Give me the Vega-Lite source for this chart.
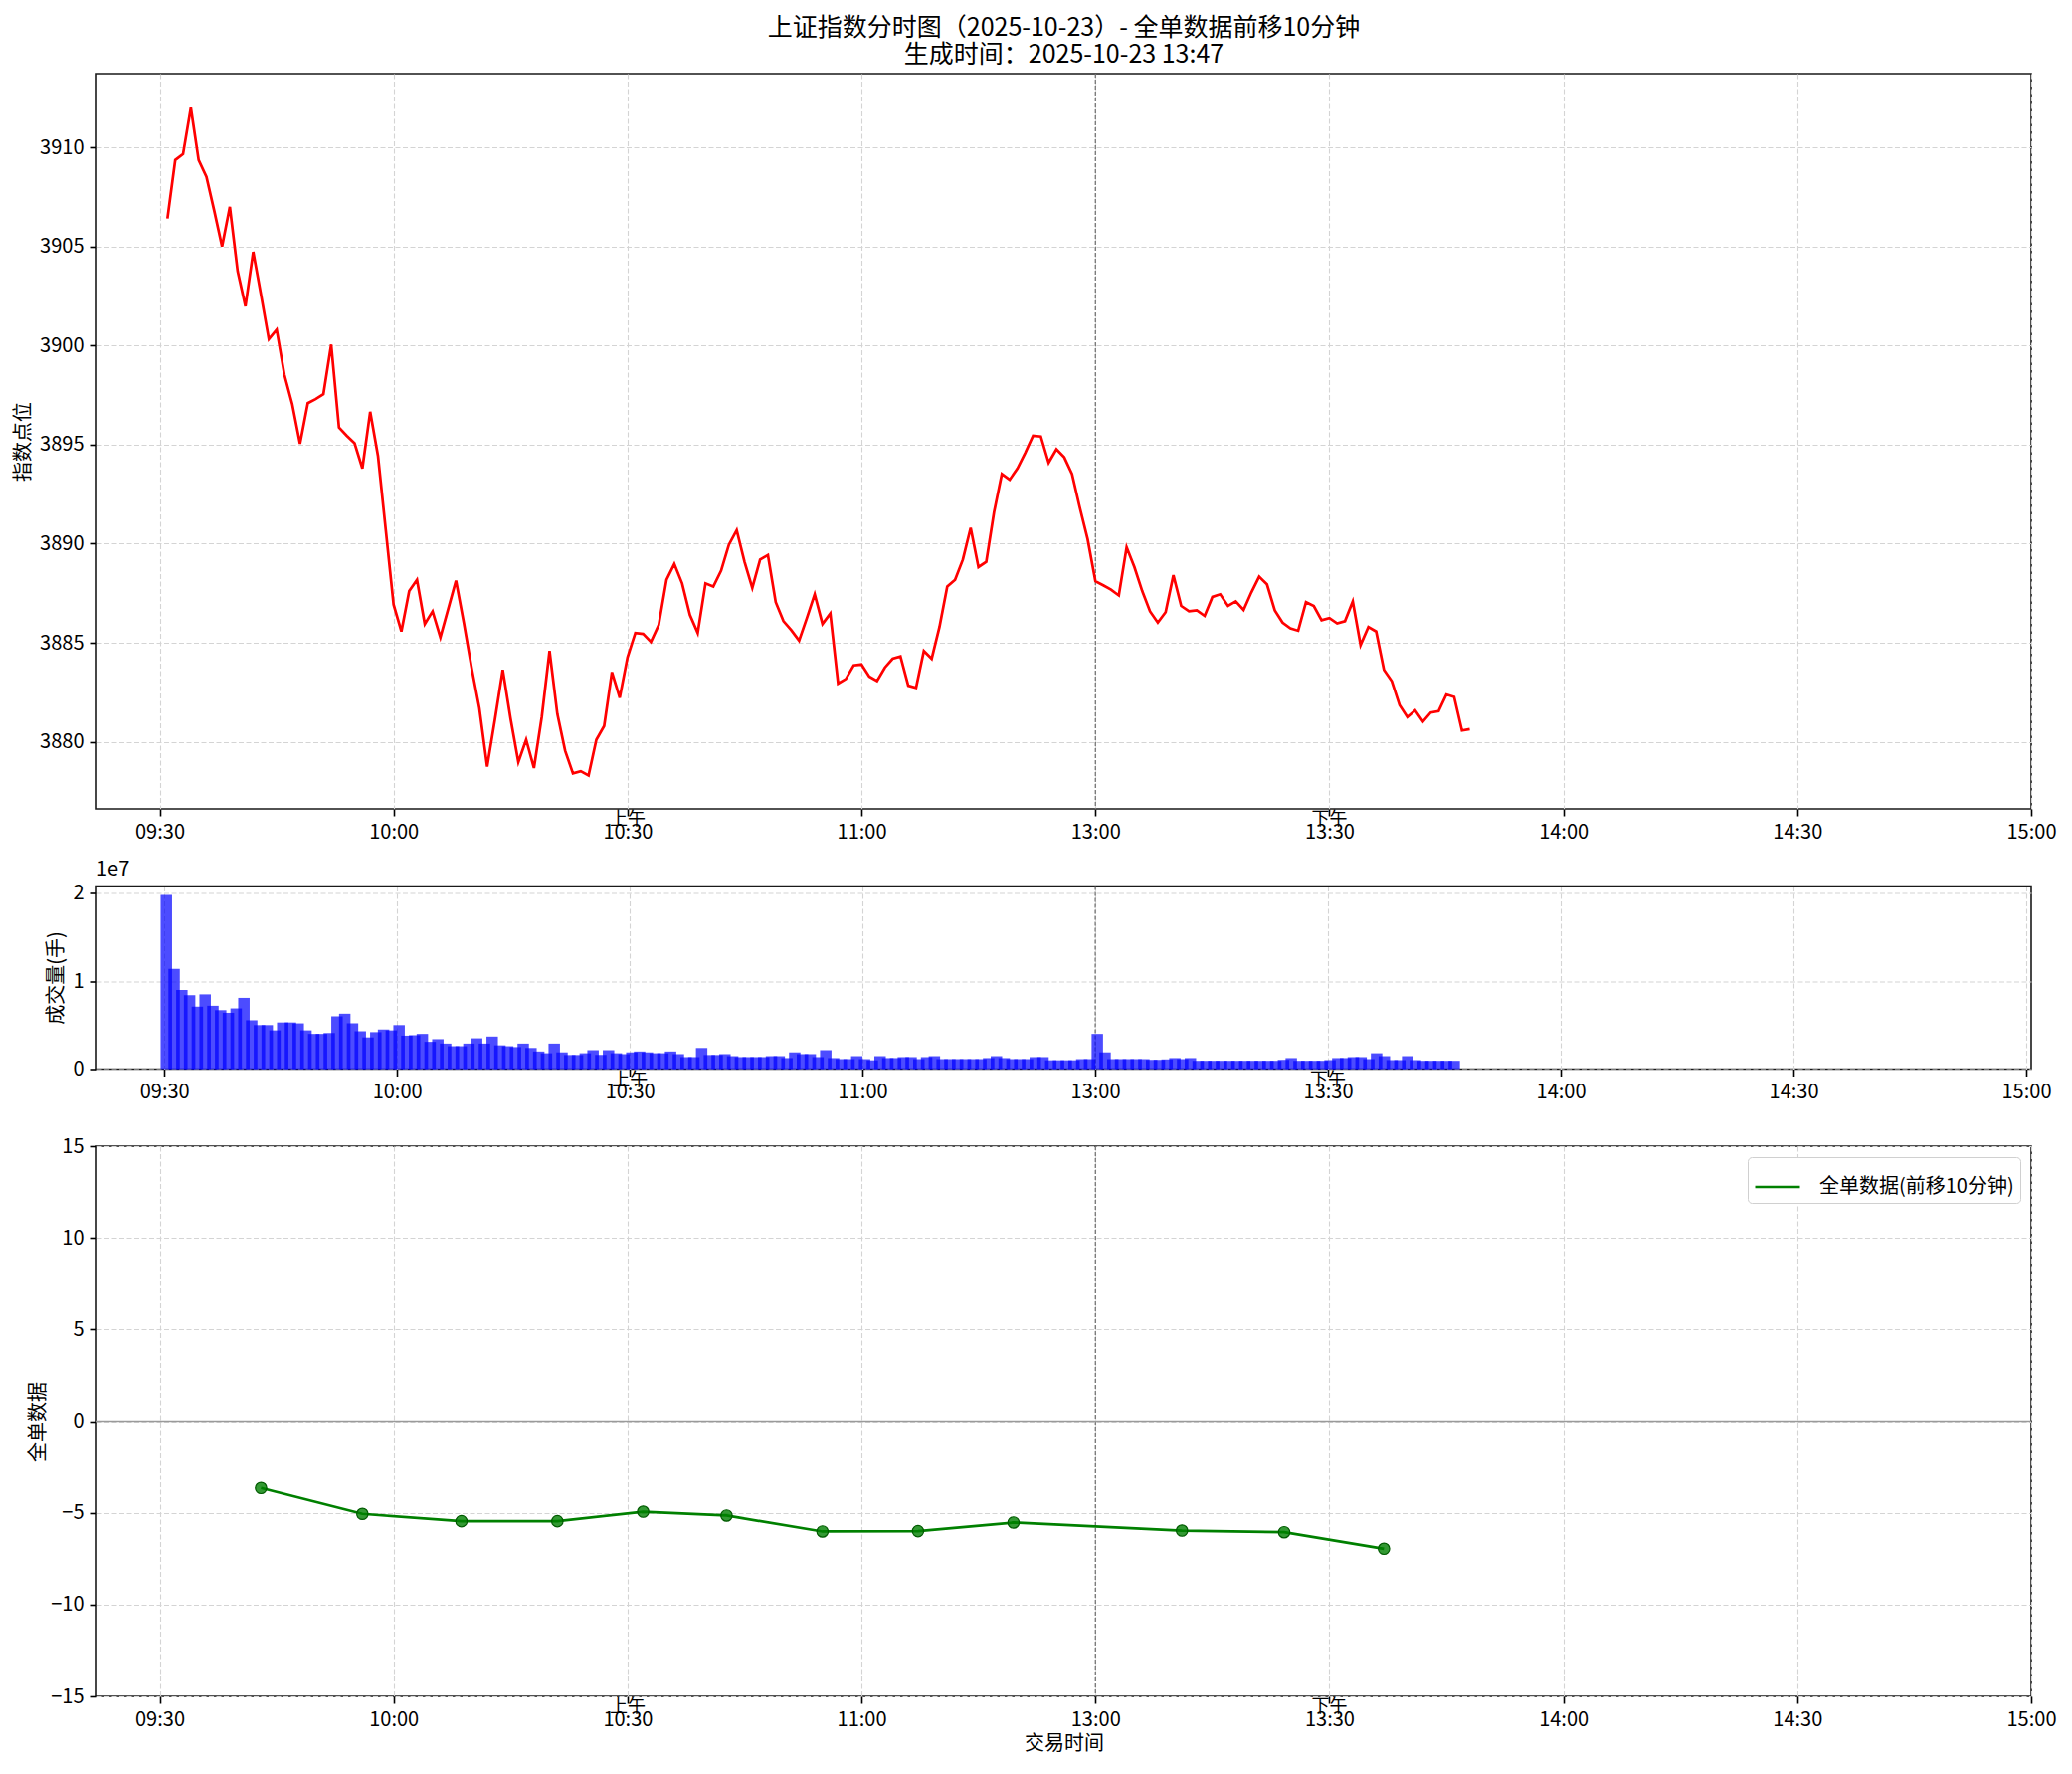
{
  "$schema": "https://vega.github.io/schema/vega-lite/v6.json",
  "background": "white",
  "padding": {"left": 12, "top": 15, "right": 30, "bottom": 10},
  "config": {
    "font": "Noto Sans CJK SC",
    "view": {"stroke": "#1a1a1a", "strokeWidth": 1.6},
    "axis": {
      "labelFontSize": 20,
      "titleFontSize": 20,
      "labelColor": "black",
      "titleColor": "black",
      "titleFontWeight": "normal",
      "tickColor": "black",
      "tickSize": 7,
      "tickWidth": 1.6,
      "domain": false,
      "gridColor": "#d4d4d4",
      "gridDash": [5, 2.5],
      "gridWidth": 1.1,
      "labelPadding": 6
    },
    "title": {"fontWeight": "normal", "color": "black"}
  },
  "datasets": {
    "price": [
      {"t": 1, "price": 3906.41}, {"t": 2, "price": 3909.36}, {"t": 3, "price": 3909.66}, {"t": 4, "price": 3912.0},
      {"t": 5, "price": 3909.36}, {"t": 6, "price": 3908.52}, {"t": 7, "price": 3906.8}, {"t": 8, "price": 3905.0},
      {"t": 9, "price": 3907.0}, {"t": 10, "price": 3903.75}, {"t": 11, "price": 3901.98}, {"t": 12, "price": 3904.73},
      {"t": 13, "price": 3902.55}, {"t": 14, "price": 3900.32}, {"t": 15, "price": 3900.8}, {"t": 16, "price": 3898.52},
      {"t": 17, "price": 3897.05}, {"t": 18, "price": 3895.05}, {"t": 19, "price": 3897.09}, {"t": 20, "price": 3897.3},
      {"t": 21, "price": 3897.55}, {"t": 22, "price": 3900.05}, {"t": 23, "price": 3895.86}, {"t": 24, "price": 3895.45},
      {"t": 25, "price": 3895.07}, {"t": 26, "price": 3893.8}, {"t": 27, "price": 3896.66}, {"t": 28, "price": 3894.43},
      {"t": 29, "price": 3890.68}, {"t": 30, "price": 3886.93}, {"t": 31, "price": 3885.57}, {"t": 32, "price": 3887.61},
      {"t": 33, "price": 3888.18}, {"t": 34, "price": 3885.95}, {"t": 35, "price": 3886.59}, {"t": 36, "price": 3885.27},
      {"t": 37, "price": 3886.7}, {"t": 38, "price": 3888.14}, {"t": 39, "price": 3886.02}, {"t": 40, "price": 3883.75},
      {"t": 41, "price": 3881.7}, {"t": 42, "price": 3878.75}, {"t": 43, "price": 3881.14}, {"t": 44, "price": 3883.64},
      {"t": 45, "price": 3881.18}, {"t": 46, "price": 3878.98}, {"t": 47, "price": 3880.11}, {"t": 48, "price": 3878.68},
      {"t": 49, "price": 3881.25}, {"t": 50, "price": 3884.59}, {"t": 51, "price": 3881.41}, {"t": 52, "price": 3879.55},
      {"t": 53, "price": 3878.41}, {"t": 54, "price": 3878.52}, {"t": 55, "price": 3878.3}, {"t": 56, "price": 3880.11},
      {"t": 57, "price": 3880.8}, {"t": 58, "price": 3883.52}, {"t": 59, "price": 3882.23}, {"t": 60, "price": 3884.27},
      {"t": 61, "price": 3885.5}, {"t": 62, "price": 3885.45}, {"t": 63, "price": 3885.05}, {"t": 64, "price": 3885.9},
      {"t": 65, "price": 3888.18}, {"t": 66, "price": 3888.98}, {"t": 67, "price": 3888.0}, {"t": 68, "price": 3886.41},
      {"t": 69, "price": 3885.5}, {"t": 70, "price": 3888.0}, {"t": 71, "price": 3887.84}, {"t": 72, "price": 3888.64},
      {"t": 73, "price": 3889.95}, {"t": 74, "price": 3890.68}, {"t": 75, "price": 3889.09}, {"t": 76, "price": 3887.77},
      {"t": 77, "price": 3889.2}, {"t": 78, "price": 3889.43}, {"t": 79, "price": 3887.05}, {"t": 80, "price": 3886.09},
      {"t": 81, "price": 3885.64}, {"t": 82, "price": 3885.11}, {"t": 83, "price": 3886.25}, {"t": 84, "price": 3887.45},
      {"t": 85, "price": 3885.95}, {"t": 86, "price": 3886.48}, {"t": 87, "price": 3882.95}, {"t": 88, "price": 3883.18},
      {"t": 89, "price": 3883.86}, {"t": 90, "price": 3883.91}, {"t": 91, "price": 3883.3}, {"t": 92, "price": 3883.07},
      {"t": 93, "price": 3883.75}, {"t": 94, "price": 3884.2}, {"t": 95, "price": 3884.32}, {"t": 96, "price": 3882.84},
      {"t": 97, "price": 3882.73}, {"t": 98, "price": 3884.59}, {"t": 99, "price": 3884.2}, {"t": 100, "price": 3885.8},
      {"t": 101, "price": 3887.84}, {"t": 102, "price": 3888.18}, {"t": 103, "price": 3889.2}, {"t": 104, "price": 3890.8},
      {"t": 105, "price": 3888.82}, {"t": 106, "price": 3889.09}, {"t": 107, "price": 3891.59}, {"t": 108, "price": 3893.52},
      {"t": 109, "price": 3893.23}, {"t": 110, "price": 3893.8}, {"t": 111, "price": 3894.59}, {"t": 112, "price": 3895.45},
      {"t": 113, "price": 3895.41}, {"t": 114, "price": 3894.09}, {"t": 115, "price": 3894.77}, {"t": 116, "price": 3894.36},
      {"t": 117, "price": 3893.52}, {"t": 118, "price": 3891.82}, {"t": 119, "price": 3890.23}, {"t": 120, "price": 3888.11},
      {"t": 121, "price": 3887.9}, {"t": 122, "price": 3887.68}, {"t": 123, "price": 3887.39}, {"t": 124, "price": 3889.82},
      {"t": 125, "price": 3888.82}, {"t": 126, "price": 3887.61}, {"t": 127, "price": 3886.59}, {"t": 128, "price": 3886.02},
      {"t": 129, "price": 3886.55}, {"t": 130, "price": 3888.41}, {"t": 131, "price": 3886.86}, {"t": 132, "price": 3886.59},
      {"t": 133, "price": 3886.64}, {"t": 134, "price": 3886.36}, {"t": 135, "price": 3887.32}, {"t": 136, "price": 3887.45},
      {"t": 137, "price": 3886.86}, {"t": 138, "price": 3887.09}, {"t": 139, "price": 3886.66}, {"t": 140, "price": 3887.55},
      {"t": 141, "price": 3888.34}, {"t": 142, "price": 3887.95}, {"t": 143, "price": 3886.64}, {"t": 144, "price": 3886.02},
      {"t": 145, "price": 3885.73}, {"t": 146, "price": 3885.61}, {"t": 147, "price": 3887.05}, {"t": 148, "price": 3886.86},
      {"t": 149, "price": 3886.14}, {"t": 150, "price": 3886.25}, {"t": 151, "price": 3885.98}, {"t": 152, "price": 3886.09},
      {"t": 153, "price": 3887.09}, {"t": 154, "price": 3884.89}, {"t": 155, "price": 3885.8}, {"t": 156, "price": 3885.57},
      {"t": 157, "price": 3883.64}, {"t": 158, "price": 3883.07}, {"t": 159, "price": 3881.86}, {"t": 160, "price": 3881.25},
      {"t": 161, "price": 3881.59}, {"t": 162, "price": 3881.02}, {"t": 163, "price": 3881.48}, {"t": 164, "price": 3881.55},
      {"t": 165, "price": 3882.39}, {"t": 166, "price": 3882.27}, {"t": 167, "price": 3880.57}, {"t": 168, "price": 3880.64}
    ],
    "volume": [
      {"t": 1, "vol": 19800000}, {"t": 2, "vol": 11400000}, {"t": 3, "vol": 9000000}, {"t": 4, "vol": 8400000},
      {"t": 5, "vol": 7100000}, {"t": 6, "vol": 8500000}, {"t": 7, "vol": 7200000}, {"t": 8, "vol": 6700000},
      {"t": 9, "vol": 6400000}, {"t": 10, "vol": 6900000}, {"t": 11, "vol": 8100000}, {"t": 12, "vol": 5550000},
      {"t": 13, "vol": 5000000}, {"t": 14, "vol": 5000000}, {"t": 15, "vol": 4400000}, {"t": 16, "vol": 5300000},
      {"t": 17, "vol": 5300000}, {"t": 18, "vol": 5200000}, {"t": 19, "vol": 4400000}, {"t": 20, "vol": 4000000},
      {"t": 21, "vol": 4000000}, {"t": 22, "vol": 4100000}, {"t": 23, "vol": 6000000}, {"t": 24, "vol": 6300000},
      {"t": 25, "vol": 5200000}, {"t": 26, "vol": 4300000}, {"t": 27, "vol": 3600000}, {"t": 28, "vol": 4200000},
      {"t": 29, "vol": 4500000}, {"t": 30, "vol": 4400000}, {"t": 31, "vol": 5000000}, {"t": 32, "vol": 3800000},
      {"t": 33, "vol": 3850000}, {"t": 34, "vol": 4000000}, {"t": 35, "vol": 3100000}, {"t": 36, "vol": 3400000},
      {"t": 37, "vol": 2900000}, {"t": 38, "vol": 2600000}, {"t": 39, "vol": 2600000}, {"t": 40, "vol": 2900000},
      {"t": 41, "vol": 3500000}, {"t": 42, "vol": 2900000}, {"t": 43, "vol": 3700000}, {"t": 44, "vol": 2700000},
      {"t": 45, "vol": 2600000}, {"t": 46, "vol": 2500000}, {"t": 47, "vol": 2900000}, {"t": 48, "vol": 2400000},
      {"t": 49, "vol": 2000000}, {"t": 50, "vol": 1800000}, {"t": 51, "vol": 2900000}, {"t": 52, "vol": 1900000},
      {"t": 53, "vol": 1600000}, {"t": 54, "vol": 1600000}, {"t": 55, "vol": 1800000}, {"t": 56, "vol": 2150000},
      {"t": 57, "vol": 1600000}, {"t": 58, "vol": 2150000}, {"t": 59, "vol": 1800000}, {"t": 60, "vol": 1700000},
      {"t": 61, "vol": 1900000}, {"t": 62, "vol": 2000000}, {"t": 63, "vol": 1900000}, {"t": 64, "vol": 1800000},
      {"t": 65, "vol": 1800000}, {"t": 66, "vol": 2000000}, {"t": 67, "vol": 1700000}, {"t": 68, "vol": 1360000},
      {"t": 69, "vol": 1360000}, {"t": 70, "vol": 2400000}, {"t": 71, "vol": 1600000}, {"t": 72, "vol": 1600000},
      {"t": 73, "vol": 1700000}, {"t": 74, "vol": 1470000}, {"t": 75, "vol": 1360000}, {"t": 76, "vol": 1360000},
      {"t": 77, "vol": 1360000}, {"t": 78, "vol": 1360000}, {"t": 79, "vol": 1470000}, {"t": 80, "vol": 1470000},
      {"t": 81, "vol": 1250000}, {"t": 82, "vol": 1900000}, {"t": 83, "vol": 1700000}, {"t": 84, "vol": 1700000},
      {"t": 85, "vol": 1360000}, {"t": 86, "vol": 2150000}, {"t": 87, "vol": 1250000}, {"t": 88, "vol": 1130000},
      {"t": 89, "vol": 1130000}, {"t": 90, "vol": 1470000}, {"t": 91, "vol": 1130000}, {"t": 92, "vol": 1000000},
      {"t": 93, "vol": 1470000}, {"t": 94, "vol": 1250000}, {"t": 95, "vol": 1250000}, {"t": 96, "vol": 1360000},
      {"t": 97, "vol": 1360000}, {"t": 98, "vol": 1130000}, {"t": 99, "vol": 1360000}, {"t": 100, "vol": 1470000},
      {"t": 101, "vol": 1130000}, {"t": 102, "vol": 1130000}, {"t": 103, "vol": 1130000}, {"t": 104, "vol": 1130000},
      {"t": 105, "vol": 1130000}, {"t": 106, "vol": 1130000}, {"t": 107, "vol": 1250000}, {"t": 108, "vol": 1470000},
      {"t": 109, "vol": 1250000}, {"t": 110, "vol": 1130000}, {"t": 111, "vol": 1130000}, {"t": 112, "vol": 1130000},
      {"t": 113, "vol": 1360000}, {"t": 114, "vol": 1360000}, {"t": 115, "vol": 1000000}, {"t": 116, "vol": 1000000},
      {"t": 117, "vol": 1000000}, {"t": 118, "vol": 1000000}, {"t": 119, "vol": 1130000}, {"t": 120, "vol": 1130000},
      {"t": 121, "vol": 4000000}, {"t": 122, "vol": 1900000}, {"t": 123, "vol": 1130000}, {"t": 124, "vol": 1130000},
      {"t": 125, "vol": 1130000}, {"t": 126, "vol": 1130000}, {"t": 127, "vol": 1130000}, {"t": 128, "vol": 1050000},
      {"t": 129, "vol": 1050000}, {"t": 130, "vol": 1100000}, {"t": 131, "vol": 1250000}, {"t": 132, "vol": 1130000},
      {"t": 133, "vol": 1250000}, {"t": 134, "vol": 940000}, {"t": 135, "vol": 940000}, {"t": 136, "vol": 940000},
      {"t": 137, "vol": 940000}, {"t": 138, "vol": 940000}, {"t": 139, "vol": 940000}, {"t": 140, "vol": 940000},
      {"t": 141, "vol": 940000}, {"t": 142, "vol": 940000}, {"t": 143, "vol": 940000}, {"t": 144, "vol": 940000},
      {"t": 145, "vol": 1050000}, {"t": 146, "vol": 1250000}, {"t": 147, "vol": 940000}, {"t": 148, "vol": 940000},
      {"t": 149, "vol": 940000}, {"t": 150, "vol": 940000}, {"t": 151, "vol": 1020000}, {"t": 152, "vol": 1250000},
      {"t": 153, "vol": 1250000}, {"t": 154, "vol": 1360000}, {"t": 155, "vol": 1360000}, {"t": 156, "vol": 1130000},
      {"t": 157, "vol": 1800000}, {"t": 158, "vol": 1470000}, {"t": 159, "vol": 1020000}, {"t": 160, "vol": 1020000},
      {"t": 161, "vol": 1470000}, {"t": 162, "vol": 1020000}, {"t": 163, "vol": 940000}, {"t": 164, "vol": 940000},
      {"t": 165, "vol": 940000}, {"t": 166, "vol": 940000}, {"t": 167, "vol": 940000}
    ],
    "flow": [
      {"t": 13, "value": -3.65, "series": "全单数据(前移10分钟)"},
      {"t": 26, "value": -5.06, "series": "全单数据(前移10分钟)"},
      {"t": 38.7, "value": -5.46, "series": "全单数据(前移10分钟)"},
      {"t": 51, "value": -5.46, "series": "全单数据(前移10分钟)"},
      {"t": 62, "value": -4.94, "series": "全单数据(前移10分钟)"},
      {"t": 72.7, "value": -5.15, "series": "全单数据(前移10分钟)"},
      {"t": 85, "value": -6.02, "series": "全单数据(前移10分钟)"},
      {"t": 97.25, "value": -6.0, "series": "全单数据(前移10分钟)"},
      {"t": 109.5, "value": -5.53, "series": "全单数据(前移10分钟)"},
      {"t": 131.1, "value": -5.97, "series": "全单数据(前移10分钟)"},
      {"t": 144.2, "value": -6.06, "series": "全单数据(前移10分钟)"},
      {"t": 157, "value": -6.96, "series": "全单数据(前移10分钟)"}
    ],
    "session": [
      {"t": 60, "label": "上午"},
      {"t": 150, "label": "下午"}
    ],
    "lunch": [{"t": 120}],
    "zero": [{"v": 0}]
  },
  "bounds": "flush",
  "spacing": 77.5,
  "resolve": {"legend": {"color": "independent"}},
  "vconcat": [
    {
      "width": 1945,
      "height": 739,
      "title": {
        "text": ["上证指数分时图（2025-10-23）- 全单数据前移10分钟", "生成时间：2025-10-23 13:47"],
        "fontSize": 25,
        "lineHeight": 27,
        "anchor": "middle",
        "frame": "group",
        "offset": 5
      },
      "layer": [
        {
          "data": {"name": "lunch"},
          "mark": {"type": "rule", "color": "#6b6b6b", "strokeWidth": 1.2, "strokeDash": [4, 2]},
          "encoding": {
            "x": {"field": "t", "type": "quantitative", "scale": {"domain": [-8.1, 240], "nice": false, "zero": false}}
          }
        },
        {
          "data": {"name": "price"},
          "mark": {"type": "line", "color": "#ff0000", "strokeWidth": 2.7},
          "encoding": {
            "x": {
              "field": "t", "type": "quantitative",
              "scale": {"domain": [-8.1, 240], "nice": false, "zero": false},
              "axis": {
                "title": null, "values": [0, 30, 60, 90, 120, 150, 180, 210, 240],
                "labelExpr": "['09:30','10:00','10:30','11:00','13:00','13:30','14:00','14:30','15:00'][round(datum.value / 30)]",
                "labelFlush": false, "labelOverlap": false
              }
            },
            "y": {
              "field": "price", "type": "quantitative",
              "scale": {"domain": [3876.62, 3913.72], "nice": false, "zero": false},
              "axis": {"title": "指数点位", "format": "d", "values": [3880, 3885, 3890, 3895, 3900, 3905, 3910], "titlePadding": 6}
            }
          }
        },
        {
          "data": {"name": "session"},
          "mark": {"type": "text", "fontSize": 18, "baseline": "top", "dy": 2, "color": "black"},
          "encoding": {
            "x": {"field": "t", "type": "quantitative", "scale": {"domain": [-8.1, 240], "nice": false, "zero": false}},
            "y": {"datum": 3876.62, "type": "quantitative", "scale": {"domain": [3876.62, 3913.72], "nice": false, "zero": false}},
            "text": {"field": "label"}
          }
        }
      ]
    },
    {
      "width": 1945,
      "height": 184,
      "title": {"text": "1e7", "fontSize": 20, "anchor": "start", "frame": "group", "offset": 4},
      "layer": [
        {
          "data": {"name": "lunch"},
          "mark": {"type": "rule", "color": "#6b6b6b", "strokeWidth": 1.2, "strokeDash": [4, 2]},
          "encoding": {
            "x": {"field": "t", "type": "quantitative", "scale": {"domain": [-8.1, 240], "nice": false, "zero": false}}
          }
        },
        {
          "data": {"name": "volume"},
          "mark": {"type": "bar", "orient": "vertical", "width": 11.5, "xOffset": -5.75, "color": "#0000ff", "opacity": 0.7},
          "encoding": {
            "x": {
              "field": "t", "type": "quantitative",
              "scale": {"domain": [-8.1, 240], "nice": false, "zero": false},
              "axis": {
                "title": null, "values": [0, 30, 60, 90, 120, 150, 180, 210, 240],
                "labelExpr": "['09:30','10:00','10:30','11:00','13:00','13:30','14:00','14:30','15:00'][round(datum.value / 30)]",
                "labelFlush": false, "labelOverlap": false
              }
            },
            "y": {
              "field": "vol", "type": "quantitative",
              "scale": {"domain": [0, 20826000], "nice": false},
              "axis": {"title": "成交量(手)", "values": [0, 10000000, 20000000], "labelExpr": "format(datum.value / 10000000, 'd')", "titlePadding": 6}
            }
          }
        },
        {
          "data": {"name": "session"},
          "mark": {"type": "text", "fontSize": 18, "baseline": "top", "dy": 2, "color": "black"},
          "encoding": {
            "x": {"field": "t", "type": "quantitative", "scale": {"domain": [-8.1, 240], "nice": false, "zero": false}},
            "y": {"datum": 0, "type": "quantitative", "scale": {"domain": [0, 20826000], "nice": false}},
            "text": {"field": "label"}
          }
        }
      ]
    },
    {
      "width": 1945,
      "height": 553,
      "layer": [
        {
          "data": {"name": "lunch"},
          "mark": {"type": "rule", "color": "#6b6b6b", "strokeWidth": 1.2, "strokeDash": [4, 2]},
          "encoding": {
            "x": {"field": "t", "type": "quantitative", "scale": {"domain": [-8.1, 240], "nice": false, "zero": false}}
          }
        },
        {
          "data": {"name": "zero"},
          "mark": {"type": "rule", "color": "#9a9a9a", "strokeWidth": 1.5},
          "encoding": {
            "y": {"field": "v", "type": "quantitative", "scale": {"domain": [-15, 15], "nice": false}}
          }
        },
        {
          "data": {"name": "flow"},
          "mark": {"type": "line", "strokeWidth": 2.7},
          "encoding": {
            "x": {
              "field": "t", "type": "quantitative",
              "scale": {"domain": [-8.1, 240], "nice": false, "zero": false},
              "axis": {
                "title": "交易时间", "titlePadding": 4, "values": [0, 30, 60, 90, 120, 150, 180, 210, 240],
                "labelExpr": "['09:30','10:00','10:30','11:00','13:00','13:30','14:00','14:30','15:00'][round(datum.value / 30)]",
                "labelFlush": false, "labelOverlap": false
              }
            },
            "y": {
              "field": "value", "type": "quantitative",
              "scale": {"domain": [-15, 15], "nice": false},
              "axis": {"title": "全单数据", "values": [-15, -10, -5, 0, 5, 10, 15], "titlePadding": 2}
            },
            "color": {
              "field": "series", "type": "nominal",
              "scale": {"range": ["#008000"]},
              "legend": {
                "title": null, "orient": "top-right", "offset": 11,
                "labelFontSize": 20, "labelColor": "black", "labelOffset": 18, "labelLimit": 0,
                "symbolType": "stroke", "symbolSize": 2025, "symbolStrokeWidth": 2.7,
                "strokeColor": "#d0d0d0", "fillColor": "white", "cornerRadius": 4, "padding": 6
              }
            }
          }
        },
        {
          "data": {"name": "flow"},
          "mark": {"type": "point", "filled": true, "size": 130, "fill": "#008000", "fillOpacity": 0.8, "stroke": "#005a00", "strokeWidth": 1.2, "strokeOpacity": 1},
          "encoding": {
            "x": {"field": "t", "type": "quantitative", "scale": {"domain": [-8.1, 240], "nice": false, "zero": false}},
            "y": {"field": "value", "type": "quantitative", "scale": {"domain": [-15, 15], "nice": false}}
          }
        },
        {
          "data": {"name": "session"},
          "mark": {"type": "text", "fontSize": 18, "baseline": "top", "dy": 2, "color": "black"},
          "encoding": {
            "x": {"field": "t", "type": "quantitative", "scale": {"domain": [-8.1, 240], "nice": false, "zero": false}},
            "y": {"datum": -15, "type": "quantitative", "scale": {"domain": [-15, 15], "nice": false}},
            "text": {"field": "label"}
          }
        }
      ]
    }
  ]
}
